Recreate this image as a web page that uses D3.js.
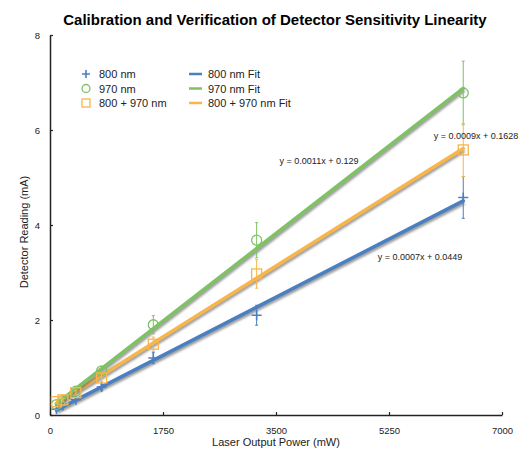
<!DOCTYPE html>
<html>
<head>
<meta charset="utf-8">
<script src="https://cdn.jsdelivr.net/npm/d3@7"></script>
<style>
  body { margin: 0; background: #fff; }
  text { font-family: "Liberation Sans", Arial, Helvetica, sans-serif; }
</style>
</head>
<body>
<div id="chart"></div>
<script>

var width = 522, height = 449;

// data
var power = [100, 200, 400, 800, 1600, 3200, 6400];
var reading800 = [0.12, 0.2, 0.32, 0.59, 1.2, 2.1, 4.58];
var reading970 = [0.22, 0.3, 0.5, 0.93, 1.9, 3.68, 6.78];
var readingBoth = [0.28, 0.32, 0.47, 0.78, 1.49, 2.97, 5.58];
var err800 = [0.01, 0.02, 0.03, 0.06, 0.12, 0.21, 0.44];
var err970 = [0.02, 0.03, 0.05, 0.09, 0.19, 0.37, 0.67];
var errBoth = [0.03, 0.03, 0.05, 0.08, 0.15, 0.3, 0.56];
var xTicks = [0, 1750, 3500, 5250, 7000];
var yTicks = [0, 2, 4, 6, 8];
var seriesNames = ["800 nm", "970 nm", "800 + 970 nm"];
var fitLabels = ["y = 0.0007x + 0.0449", "y = 0.0011x + 0.129", "y = 0.0009x + 0.1628"];

var colors = ["#4a7fc1", "#7ec264", "#f8b54a"];
var symbols = ["plus", "circle", "square"];
var labelPos = [[420, 257], [319, 161], [476, 136]];

var x = d3.scaleLinear().domain([0, 7000]).range([50, 502]);
var y = d3.scaleLinear().domain([0, 8]).range([415, 35]);

var svg = d3.select("#chart")
  .append("svg")
  .attr("width", width)
  .attr("height", height);

var defs = svg.append("defs");
defs.append("filter")
  .attr("id", "shadow")
  .attr("x", "-10%").attr("y", "-10%")
  .attr("width", "120%").attr("height", "120%")
  .append("feGaussianBlur")
  .attr("stdDeviation", 1);

svg.append("text")
  .attr("x", 275)
  .attr("y", 25)
  .style("font-size", "15px")
  .style("font-weight", "bold")
  .style("text-anchor", "middle")
  .text("Calibration and Verification of Detector Sensitivity Linearity");

// axes
var xAxis = svg.append("g")
  .attr("transform", "translate(0,415)")
  .call(d3.axisBottom(x).tickValues(xTicks).tickFormat(d3.format("d"))
    .tickSizeInner(-3).tickSizeOuter(0).tickPadding(10));
var yAxis = svg.append("g")
  .attr("transform", "translate(50,0)")
  .call(d3.axisLeft(y).tickValues(yTicks).tickFormat(d3.format("d"))
    .tickSizeInner(-3).tickSizeOuter(0).tickPadding(10));

[xAxis, yAxis].forEach(function (a) {
  a.select(".domain").attr("stroke", "#222").attr("stroke-width", 1.5);
  a.selectAll(".tick line").attr("stroke", "#222").attr("stroke-width", 1.2);
  a.selectAll(".tick text").style("font-size", "9.5px").attr("fill", "#222");
});
xAxis.selectAll(".tick text").attr("dy", "0.9em");

svg.append("text")
  .attr("x", 276)
  .attr("y", 446)
  .style("font-size", "11px")
  .style("text-anchor", "middle")
  .attr("fill", "#222")
  .text("Laser Output Power (mW)");

svg.append("text")
  .attr("transform", "translate(28,232) rotate(-90)")
  .style("font-size", "11px")
  .style("text-anchor", "middle")
  .attr("fill", "#222")
  .text("Detector Reading (mA)");

var series = [reading800, reading970, readingBoth];
var errors = [err800, err970, errBoth];

// least squares fit of each series
function fit(xs, ys) {
  var mx = d3.mean(xs), my = d3.mean(ys);
  var sxy = d3.sum(xs, function (d, i) { return (d - mx) * (ys[i] - my); });
  var sxx = d3.sum(xs, function (d) { return (d - mx) * (d - mx); });
  var slope = sxy / sxx;
  return { slope: slope, intercept: my - slope * mx };
}

var line = d3.line()
  .x(function (d) { return x(d[0]); })
  .y(function (d) { return y(d[1]); });

function drawMarker(g, type, cx, cy, color, r) {
  if (type === "plus") {
    g.append("path")
      .attr("d", "M" + (cx - r) + "," + cy + "H" + (cx + r) + "M" + cx + "," + (cy - r) + "V" + (cy + r))
      .attr("stroke", color).attr("stroke-width", 1.6).attr("fill", "none");
  } else if (type === "circle") {
    g.append("circle")
      .attr("cx", cx).attr("cy", cy).attr("r", r)
      .attr("stroke", color).attr("stroke-width", 1.3).attr("fill", "none");
  } else {
    g.append("rect")
      .attr("x", cx - r).attr("y", cy - r).attr("width", 2 * r).attr("height", 2 * r)
      .attr("stroke", color).attr("stroke-width", 1.3).attr("fill", "none");
  }
}

// fit lines with a soft shadow
var fitOrder = [0, 2, 1];
fitOrder.forEach(function (s) {
  var f = fit(power, series[s]);
  var ends = [power[0], power[power.length - 1]].map(function (p) {
    return [p, f.slope * p + f.intercept];
  });
  svg.append("path")
    .datum(ends)
    .attr("d", line)
    .attr("transform", "translate(1,2)")
    .attr("stroke", "#555")
    .attr("stroke-opacity", 0.6)
    .attr("stroke-width", 3.5)
    .attr("fill", "none")
    .attr("filter", "url(#shadow)");
  svg.append("path")
    .datum(ends)
    .attr("d", line)
    .attr("stroke", colors[s])
    .attr("stroke-width", 3.5)
    .attr("stroke-linecap", "round")
    .attr("fill", "none");
});

// points with error bars
series.forEach(function (vals, s) {
  var g = svg.append("g");
  vals.forEach(function (v, i) {
    var px = x(power[i]);
    var lo = y(v - errors[s][i]), hi = y(v + errors[s][i]);
    g.append("path")
      .attr("d", "M" + px + "," + lo + "V" + hi + "M" + (px - 1.5) + "," + lo + "H" + (px + 1.5) + "M" + (px - 1.5) + "," + hi + "H" + (px + 1.5))
      .attr("stroke", colors[s]).attr("stroke-width", 1).attr("fill", "none");
    drawMarker(g, symbols[s], px, y(v), colors[s], 5);
  });
});

// fit equations
fitLabels.forEach(function (t, s) {
  svg.append("text")
    .attr("x", labelPos[s][0])
    .attr("y", labelPos[s][1])
    .style("font-size", "9px")
    .style("text-anchor", "middle")
    .attr("dominant-baseline", "central")
    .attr("fill", "#222")
    .text(t);
});

// legend
var legend = svg.append("g");
seriesNames.forEach(function (n, s) {
  var ly = 74 + s * 14.5;
  drawMarker(legend, symbols[s], 86, ly, colors[s], 4);
  legend.append("text")
    .attr("x", 99).attr("y", ly)
    .attr("dominant-baseline", "central")
    .style("font-size", "11px").attr("fill", "#222")
    .text(n);
  legend.append("line")
    .attr("x1", 189).attr("x2", 202).attr("y1", ly).attr("y2", ly)
    .attr("stroke", colors[s]).attr("stroke-width", 2.5);
  legend.append("text")
    .attr("x", 208).attr("y", ly)
    .attr("dominant-baseline", "central")
    .style("font-size", "11px").attr("fill", "#222")
    .text(n + " Fit");
});

</script>
</body>
</html>
